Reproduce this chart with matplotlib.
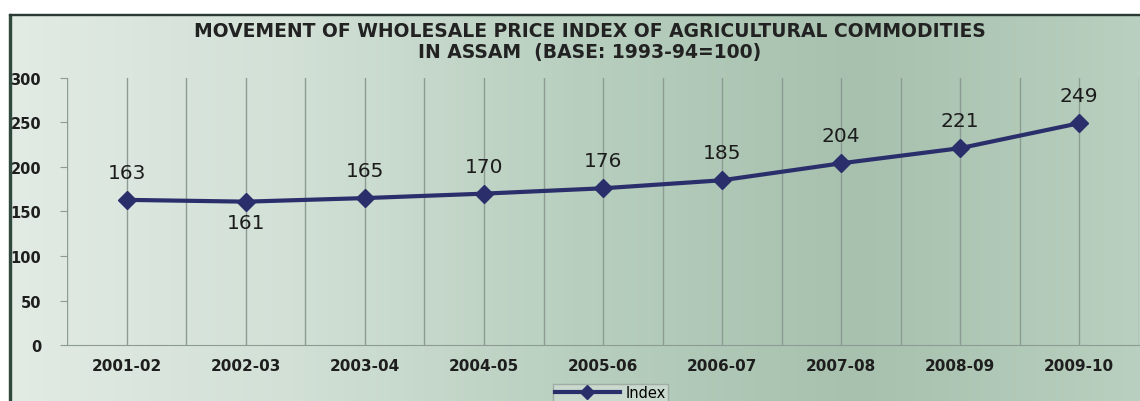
import numpy as np
import matplotlib.pyplot as plt
from matplotlib.colors import LinearSegmentedColormap
from matplotlib.patches import Rectangle

years = ['2001-02', '2002-03', '2003-04', '2004-05', '2005-06',
         '2006-07', '2007-08', '2008-09', '2009-10']
index_vals = [163, 161, 165, 170, 176, 185, 204, 221, 249]
yticks = [0, 50, 100, 150, 200, 250, 300]

line_col = '#2a2f6c'
grid_col = '#8c9c92'

fig = plt.figure(figsize=(11.4, 4.02), dpi=100)

# greenish gradient panel behind everything
bg = fig.add_axes([0.008, 0, 0.992, 0.962])
grad = LinearSegmentedColormap.from_list(
    'panel', ['#e2ebe4', '#d2e0d6', '#b8cfbf', '#a7c1ae', '#b9cfbf'])
bg.imshow(np.linspace(0, 1, 256)[None, :], aspect='auto', cmap=grad,
          extent=[0, 1, 0, 1])
bg.set_xlim(0, 1)
bg.set_ylim(0, 1)
bg.axis('off')
fig.add_artist(Rectangle((0.0075, 0), 0.0025, 0.962, transform=fig.transFigure,
                         color='#2f4a3c', zorder=5))
fig.add_artist(Rectangle((0.0075, 0.959), 0.9925, 0.004, transform=fig.transFigure,
                         color='#2b3a32', zorder=5))

ax = fig.add_axes([0.0592, 0.139, 0.9395, 0.665])
ax.patch.set_alpha(0)
x = np.arange(len(years))
ax.plot(x, index_vals, color=line_col, lw=3, marker='D', ms=9,
        label='Index', zorder=4)

for i, v in enumerate(index_vals):
    below = v < index_vals[i - 1] if i > 0 else False
    ax.annotate(str(v), (i, v), xytext=(0, -8 if below else 13),
                textcoords='offset points', ha='center',
                va='top' if below else 'bottom',
                fontsize=14.5, color='#1c1c1c')

ax.set_xlim(-0.5, len(years) - 0.5)
ax.set_ylim(0, 300)
ax.set_yticks(yticks)
ax.set_xticks(x)
ax.set_xticklabels(years, fontsize=11, fontweight='bold', color='#1e1e1e')
ax.set_yticklabels([str(t) for t in yticks], fontsize=10.5, fontweight='bold',
                   color='#1e1e1e')
ax.tick_params(axis='x', length=0, pad=9)
ax.tick_params(axis='y', length=5, color=grid_col, pad=14)

# vertical lines at every category and midway between
for gx in np.arange(-0.5, len(years), 0.5):
    ax.axvline(gx, color=grid_col, lw=1, zorder=1)
for s in ['top', 'right', 'left']:
    ax.spines[s].set_visible(False)
ax.spines['bottom'].set_color(grid_col)

ax.legend(loc='upper center', bbox_to_anchor=(0.507, -0.118), frameon=True,
          fontsize=10.5, handlelength=4.5, borderpad=0.1, handletextpad=0.4,
          borderaxespad=0.5, edgecolor='#a0aca4', facecolor='#c9d9cd',
          fancybox=False, framealpha=1, markerscale=0.8)

fig.text(0.517, 0.895,
         'MOVEMENT OF WHOLESALE PRICE INDEX OF AGRICULTURAL COMMODITIES\n'
         'IN ASSAM  (BASE: 1993-94=100)',
         ha='center', va='center', fontsize=13.5, fontweight='bold',
         color='#222222', linespacing=1.12)

fig.savefig('out.png', dpi=100)
